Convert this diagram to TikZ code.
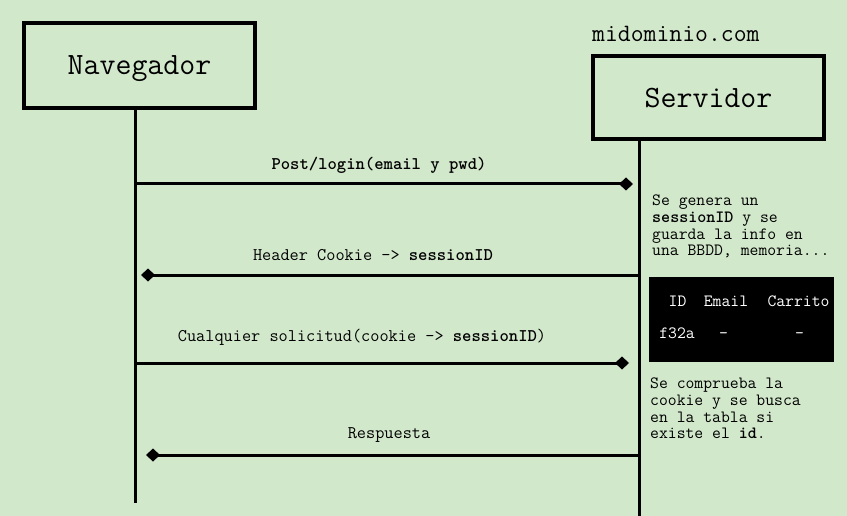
\documentclass[tikz,border=0pt]{standalone}
\usepackage{fontspec}
\usetikzlibrary{arrows.meta}
\definecolor{bggreen}{RGB}{210,232,203}
\begin{document}
\begin{tikzpicture}[x=1pt,y=-1pt,
  actor/.style={draw=black,line width=4pt,fill=bggreen,inner sep=0pt,minimum width=231pt,text depth=0pt,font=\ttfamily\fontsize{31}{34}\selectfont},
  life/.style={line width=3pt},
  msg/.style={line width=3pt,-{Diamond[length=14pt,width=13pt]}},
  lbl/.style={font=\ttfamily\fontsize{17.8}{19}\selectfont,inner sep=0pt,anchor=base},
  note/.style={font=\ttfamily\fontsize{17.2}{16.6}\selectfont,align=left,inner sep=0pt,anchor=north west},
  tbl/.style={font=\ttfamily\fontsize{17.2}{19}\selectfont,text=white,inner sep=0pt,anchor=base}]
\fill[bggreen] (0,0) rectangle (847,516);
\useasboundingbox (0,0) rectangle (847,516);
% actors
\node[actor,minimum height=85pt] (nav) at (139.5,65.5) {Navegador};
\node[actor,minimum height=83pt] (srv) at (708.5,97.5) {Servidor};
\node[font=\ttfamily\fontsize{25}{27}\selectfont,inner sep=0pt,anchor=base west] (dom) at (592,42) {midominio.com};
% lifelines
\coordinate (nt) at (135,110);
\coordinate (nb) at (135,503);
\coordinate (st) at (639,141);
\coordinate (sb) at (639,516);
\draw[life] (nt) -- (nb);
\draw[life] (st) -- (sb);
% messages
\coordinate (m1a) at (135,184); \coordinate (m1b) at (633,184);
\coordinate (m2a) at (639,275); \coordinate (m2b) at (141,275);
\coordinate (m3a) at (135,363); \coordinate (m3b) at (629,363);
\coordinate (m4a) at (639,455); \coordinate (m4b) at (146,455);
\draw[msg] (m1a) -- (m1b);
\draw[msg] (m2a) -- (m2b);
\draw[msg] (m3a) -- (m3b);
\draw[msg] (m4a) -- (m4b);
\node[lbl] (l1) at (379,170) {\textbf{Post/login(email y pwd)}};
\node[lbl] (l2) at (373,261) {Header Cookie -> \textbf{sessionID}};
\node[lbl] (l3) at (362,341) {Cualquier solicitud(cookie -> \textbf{sessionID})};
\node[lbl] (l4) at (389,438) {Respuesta};
% notes
\node[note] (n1) at (652,195) {Se genera un\\\textbf{sessionID} y se\\guarda la info en\\una BBDD, memoria...};
\node[note] (n2) at (650,378) {Se comprueba la\\cookie y se busca\\en la tabla si\\existe el \textbf{id}.};
% table
\node[fill=black,minimum width=185pt,minimum height=85pt,inner sep=0pt] (tab) at (741.5,319.5) {};
\node[tbl] (h1) at (677.5,306) {ID};
\node[tbl] (h2) at (726,306) {Email};
\node[tbl] (h3) at (798.5,306) {Carrito};
\node[tbl] (r1) at (677,338) {f32a};
\node[tbl] (r2) at (723.5,338) {-};
\node[tbl] (r3) at (799.5,338) {-};
\end{tikzpicture}
\end{document}
